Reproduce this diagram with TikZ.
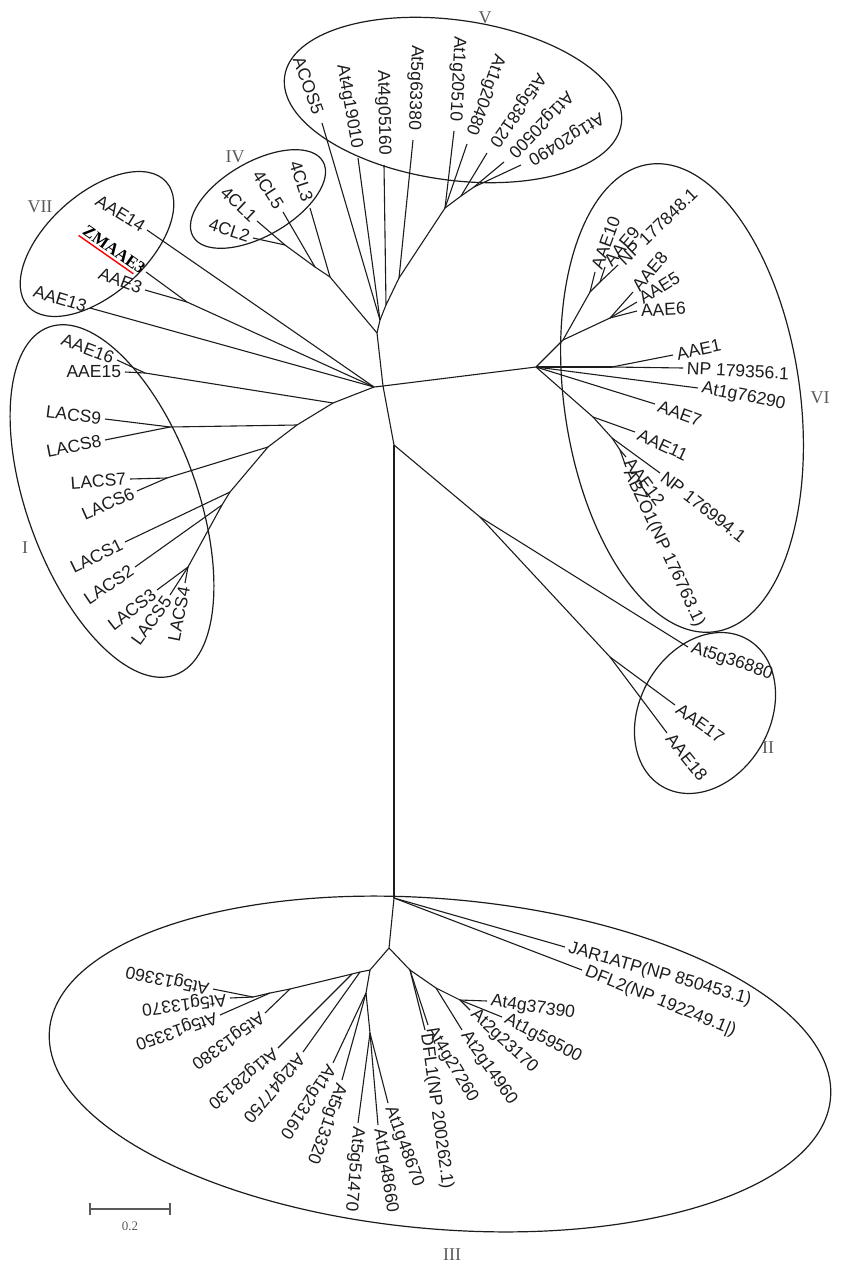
\documentclass[tikz,border=0pt]{standalone}
\usepackage{fontspec}
\setmainfont{Liberation Serif}
\setsansfont{Liberation Sans}
\usepackage{tikz}
\usetikzlibrary{calc}
\usetikzlibrary{positioning}
\definecolor{myblack}{HTML}{1C1C1C}
\definecolor{mygray}{HTML}{5A5A5A}
\tikzstyle{lf} = [inner sep=1pt, outer sep=3pt, text=myblack, font={\sffamily\fontsize{17.5}{20}\selectfont}]
\tikzstyle{lw} = [lf, anchor=west]
\tikzstyle{le} = [lf, anchor=east]
\tikzstyle{lv} = [le, outer sep=9pt]
\tikzstyle{br} = [draw=myblack, line width=1.1pt, line join=round]
\tikzstyle{grp} = [draw=myblack, line width=1.2pt]
\tikzstyle{num} = [text=mygray, font={\rmfamily\fontsize{18}{20}\selectfont}]
\tikzstyle{sbar} = [draw=mygray, line width=1.2pt]

\begin{document}
\begin{tikzpicture}[x=1pt, y=-1pt]
  \useasboundingbox (0,0) rectangle (849,1268);
  % centre of the tree
  \coordinate (c0) at (383,386);
  \coordinate (cL) at (374,387);
  \coordinate (n5) at (377,333);
  \coordinate (cR) at (536,367);
  \coordinate (cD) at (394,445);
  \coordinate (n2) at (480,517);
  \coordinate (n3) at (394,898);
  % groups V and IV
  \coordinate (v0) at (380,320);
  \coordinate (v1) at (386,305);
  \coordinate (v2) at (399,278);
  \coordinate (v3) at (445,208);
  \coordinate (v4) at (461,196);
  \coordinate (v5) at (474,187);
  \coordinate (a4) at (330,277);
  \coordinate (b4) at (315,267);
  \coordinate (e4) at (285,245);
  \node[lv, rotate=-70] (acos5) at (322,123) {ACOS5};
  \node[lv, rotate=-80] (g19010) at (358,158) {At4g19010};
  \node[lv, rotate=-89] (g05160) at (384,165) {At4g05160};
  \node[lv, rotate=-92] (g63380) at (413,140) {At5g63380};
  \node[lv, rotate=-93] (g20510) at (454,131) {At1g20510};
  \node[lv, rotate=-110] (g20480) at (467,144) {At1g20480};
  \node[lv, rotate=-125] (g38120) at (487,153) {At5g38120};
  \node[lv, rotate=-134] (g20500) at (504,162) {At1g20500};
  \node[lv, rotate=-149] (g20490) at (521,165) {At1g20490};
  \node[le, outer sep=6pt, rotate=-72] (cl3) at (310,208) {4CL3};
  \node[le, outer sep=5pt, rotate=-57] (cl5) at (283,212) {4CL5};
  \node[le, rotate=-43] (cl1) at (257,221) {4CL1};
  \node[le, rotate=-18] (cl2) at (253,238) {4CL2};
  % group VII
  \coordinate (g7) at (187,302);
  \node[le, rotate=-32] (aae14) at (147,230) {AAE14};
  \node[le, rotate=-35, inner sep=0pt, text=black, font={\rmfamily\bfseries\fontsize{17}{20}\selectfont}] (zm) at (146,272) {ZMAAE3};
  \node[le, rotate=-21] (aae3) at (145,290) {AAE3};
  \node[le, rotate=-17] (aae13) at (90,308) {AAE13};
  % group I
  \coordinate (g16) at (145,373);
  \coordinate (i0) at (333,403);
  \coordinate (i1) at (297,425);
  \coordinate (j9) at (170,427);
  \coordinate (i2) at (268,447);
  \coordinate (j67) at (167,478);
  \coordinate (i3) at (230,492);
  \coordinate (i4) at (222,505);
  \coordinate (i5) at (188,567);
  \node[le, rotate=-21] (aae16) at (117,360) {AAE16};
  \node[le] (aae15) at (125,372) {AAE15};
  \node[le, rotate=-7] (lacs9) at (105,419) {LACS9};
  \node[le, rotate=11] (lacs8) at (105,440) {LACS8};
  \node[le, rotate=4] (lacs7) at (130,479) {LACS7};
  \node[le, rotate=24] (lacs6) at (137,491) {LACS6};
  \node[le, rotate=26] (lacs1) at (125,542) {LACS1};
  \node[le, rotate=34] (lacs2) at (135,567) {LACS2};
  \node[le, rotate=38] (lacs3) at (157,590) {LACS3};
  \node[le, rotate=54] (lacs5) at (170,595) {LACS5};
  \node[le, rotate=79] (lacs4) at (185,583) {LACS4};
  % group VI
  \coordinate (kA) at (563,340);
  \coordinate (k10) at (590,292);
  \coordinate (k9) at (600,282);
  \coordinate (k8) at (610,318);
  \coordinate (k1) at (612,367);
  \coordinate (kB) at (593,417);
  \coordinate (kC) at (612,438);
  \coordinate (kD) at (620,450);
  \node[lw, rotate=70] (aae10) at (595,272) {AAE10};
  \node[lw, rotate=50] (aae9) at (605,267) {AAE9};
  \node[lw, rotate=44] (np848) at (618,265) {NP 177848.1};
  \node[lw, rotate=50] (aae8) at (633,292) {AAE8};
  \node[lw, rotate=32] (aae5) at (637,302) {AAE5};
  \node[lw, rotate=3] (aae6) at (637,311) {AAE6};
  \node[lw, rotate=12] (aae1) at (673,355) {AAE1};
  \node[lw, rotate=-3] (np356) at (683,368) {NP 179356.1};
  \node[lw, rotate=-11] (g76290) at (698,388) {At1g76290};
  \node[lw, rotate=-20] (aae7) at (655,404) {AAE7};
  \node[lw, rotate=-25] (aae11) at (635,432) {AAE11};
  \node[lw, rotate=-38] (np994) at (660,473) {NP 176994.1};
  \node[lw, rotate=-53] (aae12) at (626,457) {AAE12};
  \node[lw, rotate=-65] (abzo1) at (626,467) {ABZO1(NP 176763.1)};
  % group II
  \coordinate (k17) at (610,657);
  \node[lw, rotate=-18.5] (g36880) at (688,647) {At5g36880};
  \node[lw, rotate=-36] (aae17) at (675,705) {AAE17};
  \node[lw, rotate=-51] (aae18) at (667,733) {AAE18};
  % group III
  \coordinate (m1) at (389,948);
  \coordinate (r1) at (410,970);
  \coordinate (r2) at (436,988);
  \coordinate (r3) at (460,1000);
  \coordinate (m2) at (370,970);
  \coordinate (u1) at (360,972);
  \coordinate (u1b) at (352,974);
  \coordinate (u2) at (290,989);
  \coordinate (u3) at (270,993);
  \coordinate (u4) at (253,997);
  \coordinate (v6) at (366,993);
  \coordinate (w6) at (370,1033);
  \node[lw, rotate=-16] (jar) at (565,947) {JAR1ATP(NP 850453.1)};
  \node[lw, rotate=-22] (dfl2) at (582,970) {DFL2(NP 192249.1|)};
  \node[lw, rotate=-8.5] (g37390) at (487,1001) {At4g37390};
  \node[lw, rotate=-28] (g59500) at (502,1017) {At1g59500};
  \node[lw, rotate=-43] (g23170) at (470,1010) {At2g23170};
  \node[lw, rotate=-55] (g14960) at (462,1030) {At2g14960};
  \node[lw, rotate=-59] (g27260) at (428,1025) {At4g27260};
  \node[lw, rotate=-82] (dfl1) at (425,1030) {DFL1(NP 200262.1)};
  \node[lw, rotate=-70] (g48670) at (388,1103) {At1g48670};
  \node[lw, rotate=-81] (g48660) at (378,1125) {At1g48660};
  \node[lw, rotate=-95] (g51470) at (358,1123) {At5g51470};
  \node[lw, rotate=-110] (g13320) at (342,1080) {At5g13320};
  \node[lw, rotate=-124] (g23160) at (333,1063) {At1g23160};
  \node[lw, rotate=-130] (g47750) at (303,1052) {At2g47750};
  \node[lw, rotate=-140] (g28130) at (278,1048) {At1g28130};
  \node[lw, rotate=-144] (g13380) at (265,1013) {At5g13380};
  \node[lw, rotate=-161] (g13350) at (220,1015) {At5g13350};
  \node[lw, rotate=-173] (g13370) at (230,998) {At5g13370};
  \node[lw, rotate=168] (g13360) at (213,989) {At5g13360};

  % branches
  \path[br]
    (cL) edge (c0) (c0) edge (n5) (c0) edge (cR) (c0) edge (cD)
    (cD) edge (n3) (cD) edge (n2)
    (n5) edge (v0) (v0) edge (v1) (v1) edge (v2) (v2) edge (v3) (v3) edge (v4) (v4) edge (v5)
    (v0) edge (acos5.east) (v0) edge (g19010.east) (v1) edge (g05160.east)
    (v2) edge (g63380.east) (v3) edge (g20510.east) (v3) edge (g20480.east)
    (v4) edge (g38120.east) (v5) edge (g20500.east) (v5) edge (g20490.east)
    (n5) edge (a4) (a4) edge (b4) (b4) edge (e4)
    (a4) edge (cl3.east) (b4) edge (cl5.east) (e4) edge (cl1.east) (e4) edge (cl2.east)
    (cL) edge (aae14.east) (cL) edge (g7) (g7) edge (zm.east) (g7) edge (aae3.east)
    (cL) edge (aae13.east)
    (cL) edge (i0) (i0) edge (g16) (g16) edge (aae15.east) (g16) edge (aae16.east)
    (i0) edge (i1) (i1) edge (i2) (i2) edge (i3) (i3) edge (i4) (i4) edge (i5)
    (i1) edge (j9) (j9) edge (lacs9.east) (j9) edge (lacs8.east)
    (i2) edge (j67) (j67) edge (lacs7.east) (j67) edge (lacs6.east)
    (i3) edge (lacs1.east) (i4) edge (lacs2.east)
    (i5) edge (lacs3.east) (i5) edge (lacs5.east) (i5) edge (lacs4.east)
    (cR) edge (kA) (kA) edge (k10) (k10) edge (aae10.west) (k10) edge (k9)
    (k9) edge (aae9.west) (k9) edge (np848.west)
    (kA) edge (k8) (k8) edge (aae8.west) (k8) edge (aae5.west) (k8) edge (aae6.west)
    (cR) edge (k1) (k1) edge (aae1.west) (k1) edge (np356.west)
    (cR) edge (g76290.west) (cR) edge (aae7.west)
    (cR) edge (kB) (kB) edge (aae11.west) (kB) edge (kC) (kC) edge (np994.west)
    (kC) edge (kD) (kD) edge (aae12.west) (kD) edge (abzo1.west)
    (n2) edge (g36880.west) (n2) edge (k17) (k17) edge (aae17.west) (k17) edge (aae18.west)
    (n3) edge (jar.west) (n3) edge (dfl2.west) (n3) edge (m1)
    (m1) edge (r1) (r1) edge (r2) (r2) edge (r3) (r3) edge (g59500.west)
    (r1) edge (g27260.west) (r1) edge (dfl1.west) (r2) edge (g14960.west)
    (r3) edge (g23170.west) (r3) edge (g37390.west)
    (m1) edge (m2) (m2) edge (u1) (u1) edge (u1b) (u1b) edge (u2) (u2) edge (u3) (u3) edge (u4)
    (u1) edge (g47750.west) (u1b) edge (g28130.west) (u2) edge (g13380.west)
    (u3) edge (g13350.west) (u4) edge (g13370.west) (u4) edge (g13360.west)
    (m2) edge (v6) (v6) edge (g23160.west) (v6) edge (g13320.west) (v6) edge (w6)
    (w6) edge (g51470.west) (w6) edge (g48660.west) (w6) edge (g48670.west);

  % red mark under ZMAAE3
  \draw[red, line width=1.4pt] ($(zm.south west)!0.02!(zm.south east)$) -- ($(zm.south west)!0.88!(zm.south east)$);

  % group outlines
  \draw[grp, rotate around={-8:(453,100)}] (453,100) ellipse [x radius=170pt, y radius=80pt];
  \draw[grp, rotate around={30:(258,199)}] (258,199) ellipse [x radius=75pt, y radius=37pt];
  \draw[grp, rotate around={42:(97,244)}] (97,244) ellipse [x radius=93pt, y radius=50pt];
  \draw[grp, rotate around={20:(112,501)}] (112,501) ellipse [x radius=85pt, y radius=185pt];
  \draw[grp, rotate around={8:(682,398)}] (682,398) ellipse [x radius=118pt, y radius=236pt];
  \draw[grp, rotate around={60:(705,713)}] (705,713) ellipse [x radius=85pt, y radius=65pt];
  \draw[grp, rotate around={-5:(440,1064)}] (440,1064) ellipse [x radius=392pt, y radius=165pt];

  % group numbers
  \node[num] (lV) at (485,18) {V};
  \node[num] (lIV) at (235,157) {IV};
  \node[num] (lVII) at (40,207) {VII};
  \node[num] (lI) at (25,548) {I};
  \node[num] (lVI) at (820,398) {VI};
  \node[num] (lII) at (768,748) {II};
  \node[num] (lIII) at (452,1255) {III};

  % scale bar
  \coordinate (s0) at (90,1209);
  \coordinate (s1) at (170,1209);
  \draw[sbar] (s0) -- (s1);
  \draw[sbar] ($(s0)+(0,-6)$) -- ($(s0)+(0,6)$);
  \draw[sbar] ($(s1)+(0,-6)$) -- ($(s1)+(0,6)$);
  \node[text=mygray, font={\rmfamily\fontsize{13}{15}\selectfont}] (sl) at (130,1226) {0.2};
\end{tikzpicture}
\end{document}
